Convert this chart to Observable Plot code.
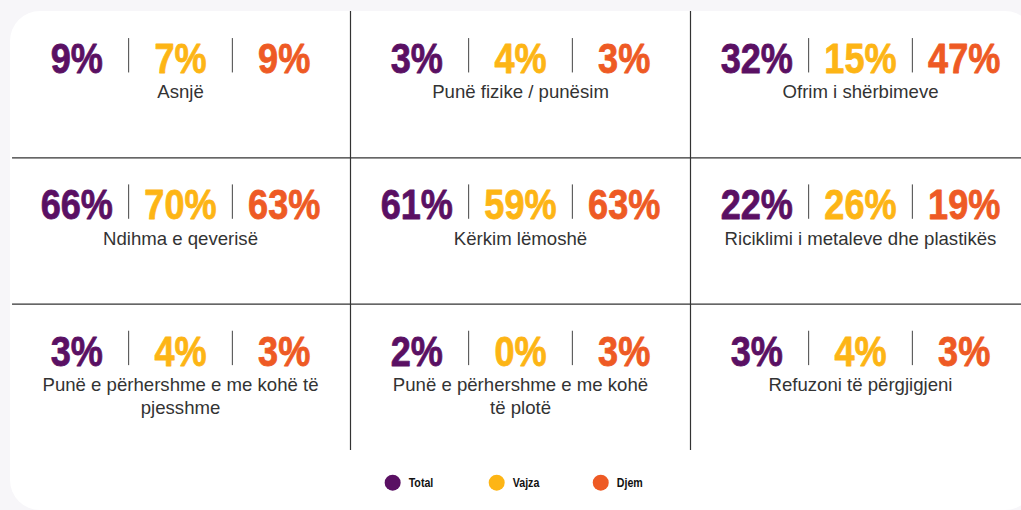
<!DOCTYPE html>
<html>
<head>
<meta charset="utf-8">
<script src="https://cdn.jsdelivr.net/npm/d3@7"></script>
<script src="https://cdn.jsdelivr.net/npm/@observablehq/plot@0.6"></script>
<style>
  html, body { margin: 0; padding: 0; background: #f7f6f9; width: 1021px; height: 510px; overflow: hidden; }
  .panel { position: absolute; left: 10px; top: 11px; width: 1025px; height: 499px; background: #ffffff; border-radius: 30px; }
  #chart { position: absolute; left: 0; top: 0; }
  #chart svg { background: transparent; }
</style>
</head>
<body>
<div class="panel"></div>
<div id="chart"></div>
<script>
const categories = [
  "Asnjë",
  "Punë fizike / punësim",
  "Ofrim i shërbimeve",
  "Ndihma e qeverisë",
  "Kërkim lëmoshë",
  "Riciklimi i metaleve dhe plastikës",
  "Punë e përhershme e me kohë të\npjesshme",
  "Punë e përhershme e me kohë\ntë plotë",
  "Refuzoni të përgjigjeni"
];
const series = ["Total", "Vajza", "Djem"];
const total = [9, 3, 32, 66, 61, 22, 3, 2, 3];
const vajza = [7, 4, 15, 70, 59, 26, 4, 0, 4];
const djem  = [9, 3, 47, 63, 63, 19, 3, 3, 3];
const seriesColors = ["#5a1063", "#fdb515", "#ee5a24"];

const values = [total, vajza, djem];
const step = 0.305;      // horizontal offset between the three values inside a cell
const base = 0.42;       // number baseline inside a row
const sepH = 0.235;      // separator height

const numbers = [];
const labels = [];
const seps = [];
categories.forEach((c, i) => {
  const col = i % 3, row = Math.floor(i / 3);
  const cx = col + 0.5;
  series.forEach((s, j) => {
    numbers.push({x: cx + (j - 1) * step, y: row + base, series: s, text: values[j][i] + "%"});
  });
  seps.push({x: cx - step / 2, y1: row + base - sepH, y2: row + base});
  seps.push({x: cx + step / 2, y1: row + base - sepH, y2: row + base});
  labels.push({x: cx, y: row + base, text: c});
});
const legend = series.map((s, j) => ({x: 1.43 + (j - 1) * 0.306, y: 3.22, series: s}));

const numFont = "'Liberation Sans', Arial, sans-serif";

const chart = Plot.plot({
  width: 1021,
  height: 510,
  margin: 0,
  style: {background: "transparent"},
  x: {domain: [0, 3], range: [10, 1030], axis: null},
  y: {domain: [0, 3], range: [11, 450], axis: null},
  color: {domain: series, range: seriesColors},
  marks: [
    Plot.ruleY([1, 2], {x1: 0.006, x2: 3, stroke: "#333", strokeWidth: 1.2}),
    Plot.ruleX([1, 2], {y1: 0, y2: 3, stroke: "#333", strokeWidth: 1.2}),
    Plot.ruleX(seps, {x: "x", y1: "y1", y2: "y2", stroke: "#444", strokeWidth: 1}),
    Plot.text(numbers, {
      x: "x", y: "y", text: "text", fill: "series", stroke: "series", strokeWidth: 0.8,
      lineAnchor: "bottom", fontSize: 43, fontWeight: "bold",
      fontFamily: numFont, ariaDescription: "numbers"
    }),
    Plot.text(labels, {
      x: "x", y: "y", text: "text", fill: "#333",
      lineAnchor: "top", lineHeight: 1.25, dy: 9,
      fontSize: 18.6, fontFamily: "'Liberation Sans', Arial, sans-serif"
    }),
    Plot.dot(legend, {x: "x", y: "y", fill: "series", r: 8}),
    Plot.text(legend, {
      x: "x", y: "y", text: "series", dx: 16, textAnchor: "start",
      lineAnchor: "middle", fill: "#111", fontSize: 13, fontWeight: "bold",
      fontFamily: numFont, ariaDescription: "legendtext"
    })
  ]
});
document.getElementById("chart").appendChild(chart);

// condensed look for the bold figures
function condense(desc, size, sx) {
  d3.select(chart).selectAll("g")
    .filter(function () {
      return this.getAttribute("aria-description") === desc || this.getAttribute("font-size") === String(size);
    })
    .selectAll("text")
    .each(function () {
      const t = this.getAttribute("transform") || "";
      if (!/scale/.test(t)) this.setAttribute("transform", t + ` scale(${sx},1)`);
    });
}
condense("numbers", 43, 0.84);
condense("legendtext", 13, 0.82);
</script>
</body>
</html>
